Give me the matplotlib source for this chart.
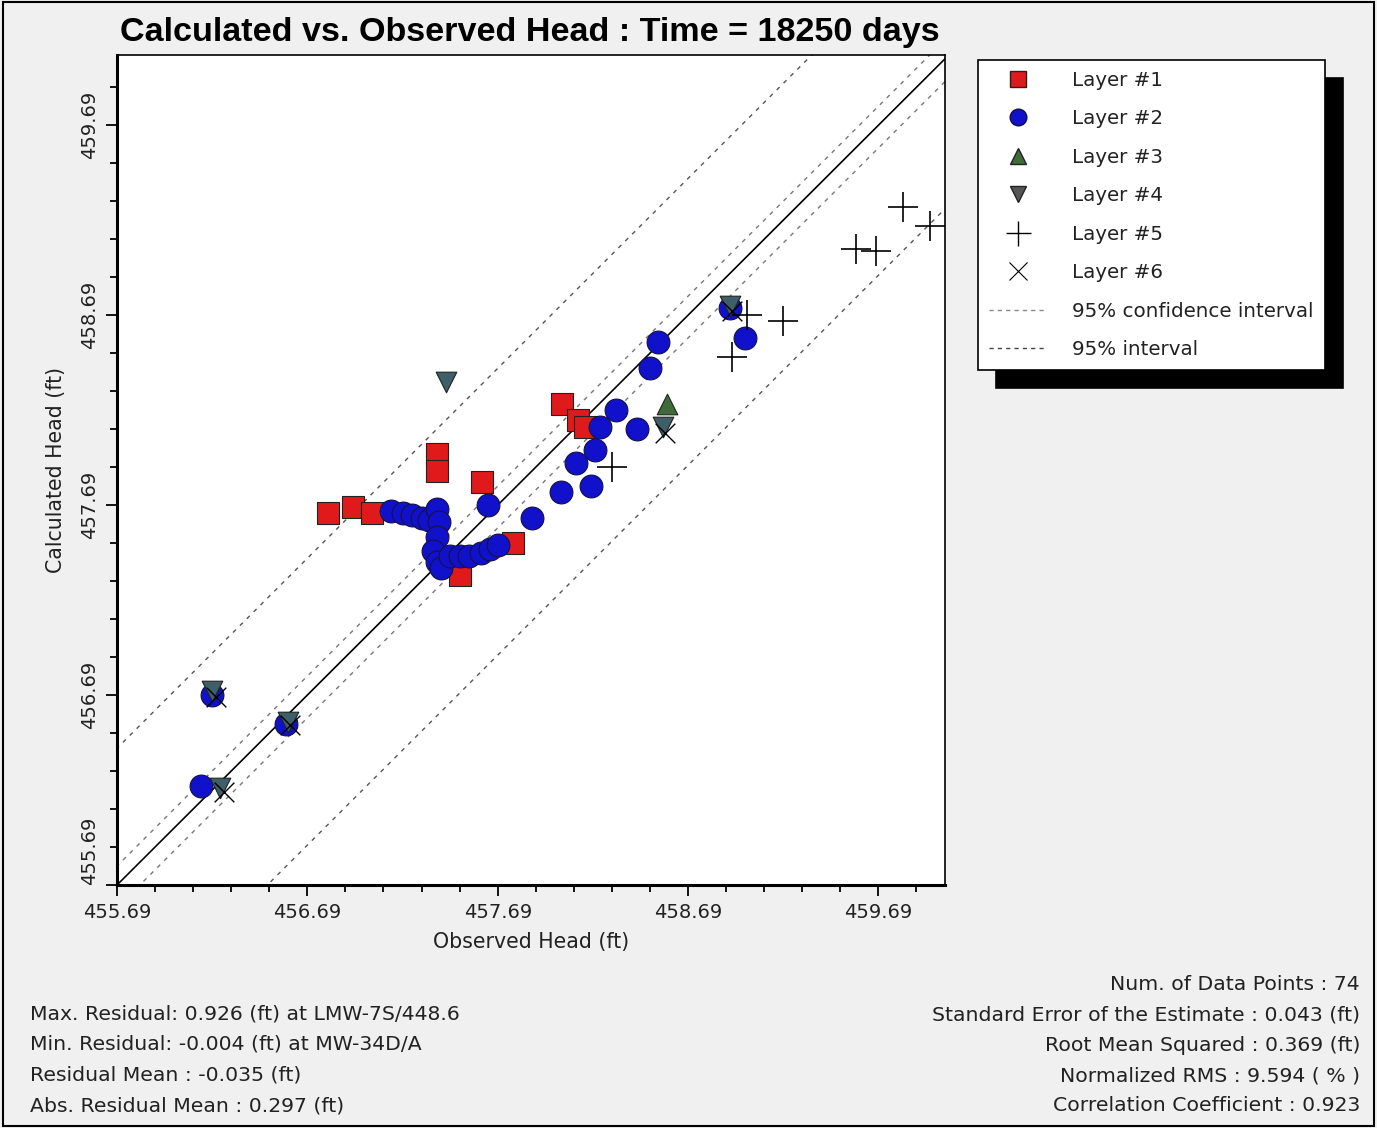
import numpy as np
import matplotlib
matplotlib.use("Agg")
import matplotlib.pyplot as plt
from matplotlib.lines import Line2D
from matplotlib.patches import Rectangle

plt.rcParams['font.family'] = ['DejaVu Sans']

# observed / calculated heads per layer (ft)
l1_obs = [456.80, 456.93, 457.03, 457.37, 457.37, 457.61, 457.77, 457.49, 458.03, 458.11, 458.15]
l1_calc = [457.65, 457.68, 457.65, 457.96, 457.87, 457.81, 457.49, 457.32, 458.22, 458.14, 458.10]

l2_obs = [457.13, 457.19, 457.24, 457.29, 457.33, 457.37, 457.38, 457.37, 457.35, 457.37,
          457.39, 457.44, 457.49, 457.54, 457.60, 457.65, 457.69, 457.64, 457.87, 458.02,
          458.10, 458.18, 458.20, 458.23, 458.31, 458.42, 458.49, 458.53, 458.91, 458.99,
          456.19, 456.58, 456.13]
l2_calc = [457.66, 457.65, 457.64, 457.62, 457.61, 457.67, 457.60, 457.52, 457.45, 457.39,
           457.36, 457.42, 457.42, 457.42, 457.44, 457.46, 457.48, 457.69, 457.62, 457.76,
           457.91, 457.79, 457.98, 458.10, 458.19, 458.09, 458.41, 458.55, 458.73, 458.57,
           456.69, 456.54, 456.21]

l3_obs = [458.58]
l3_calc = [458.22]

l4_obs = [457.42, 458.56, 458.91, 456.19, 456.59, 456.23]
l4_calc = [458.34, 458.10, 458.74, 456.71, 456.55, 456.20]

l5_obs = [458.29, 459.00, 459.19, 458.92, 459.82, 459.96, 459.57, 459.68]
l5_calc = [457.89, 458.69, 458.66, 458.47, 459.26, 459.16, 459.04, 459.03]

l6_obs = [458.57, 456.21, 456.60, 456.25, 458.92]
l6_calc = [458.07, 456.68, 456.53, 456.18, 458.71]

# interval offsets from the 1:1 line (ft)
ci_upper, ci_lower = 0.10, -0.12
pi_upper, pi_lower = 0.72, -0.79

x_min, x_max = 455.69, 460.04
y_min, y_max = 455.69, 460.06

stats_left = ["Max. Residual: 0.926 (ft) at LMW-7S/448.6",
              "Min. Residual: -0.004 (ft) at MW-34D/A",
              "Residual Mean : -0.035 (ft)",
              "Abs. Residual Mean : 0.297 (ft)"]
stats_right = ["Num. of Data Points : 74",
               "Standard Error of the Estimate : 0.043 (ft)",
               "Root Mean Squared : 0.369 (ft)",
               "Normalized RMS : 9.594 ( % )",
               "Correlation Coefficient : 0.923"]

W, H = 1377, 1128
fig = plt.figure(figsize=(W / 100, H / 100), dpi=100, facecolor='#f0f0f0')
ax = fig.add_axes([117 / W, 1 - 885 / H, 828 / W, 830 / H])
ax.set_facecolor('white')

# 1:1 line and intervals
xx = np.array([x_min - 1, x_max + 1])
ax.plot(xx, xx, color='black', lw=1.2, zorder=2)
for off in (ci_upper, ci_lower):
    ax.plot(xx, xx + off, color='#777777', lw=1.0, dashes=(3, 4), zorder=2)
for off in (pi_upper, pi_lower):
    ax.plot(xx, xx + off, color='#555555', lw=1.0, dashes=(3, 4), zorder=2)

ax.scatter(l1_obs, l1_calc, marker='s', s=260, c='#e01a1a', edgecolors='#222222', linewidths=0.8, zorder=3)
ax.scatter(l2_obs, l2_calc, marker='o', s=270, c='#1111cc', edgecolors='#111144', linewidths=0.8, zorder=4)
ax.scatter(l3_obs, l3_calc, marker='^', s=220, c='#3f6b3a', edgecolors='#222222', linewidths=0.8, zorder=5)
ax.scatter(l4_obs, l4_calc, marker='v', s=220, c='#3d5f68', edgecolors='#222222', linewidths=0.8, zorder=5)
ax.scatter(l5_obs, l5_calc, marker='+', s=480, c='black', linewidths=1.2, zorder=6)
ax.scatter(l6_obs, l6_calc, marker='x', s=200, c='black', linewidths=1.0, zorder=6)

ax.set_xlim(x_min, x_max)
ax.set_ylim(y_min, y_max)

major = np.arange(455.69, 460.0, 1.0)
minor = np.arange(455.89, 460.05, 0.2)
ax.set_xticks(major)
ax.set_yticks(major)
ax.set_xticks(minor, minor=True)
ax.set_yticks(minor, minor=True)
ax.set_xticklabels(["%.2f" % v for v in major])
ax.set_yticklabels(["%.2f" % v for v in major], rotation=90, va='center')
ax.tick_params(which='major', length=8, width=1.3, labelsize=14, pad=5, labelcolor='#222222')
ax.tick_params(which='minor', length=5, width=1.3)
# lowest y label sits above its tick so it clears the x labels
ax.get_yticklabels()[0].set_va('bottom')

for side in ('left', 'bottom'):
    ax.spines[side].set_linewidth(2.2)
for side in ('top', 'right'):
    ax.spines[side].set_linewidth(1.2)

ax.set_xlabel("Observed Head (ft)", fontsize=14.8, labelpad=7, color='#222222')
ax.set_ylabel("Calculated Head (ft)", fontsize=14.8, labelpad=10, color='#222222')

fig.text(530 / W, 1 - 32 / H, "Calculated vs. Observed Head : Time = 18250 days",
         family='Liberation Sans', fontweight='bold', fontsize=24.6, ha='center', va='center')

handles = [
    Line2D([], [], ls='none', marker='s', ms=12, mfc='#e01a1a', mec='#222222'),
    Line2D([], [], ls='none', marker='o', ms=12, mfc='#1111cc', mec='#111144'),
    Line2D([], [], ls='none', marker='^', ms=12, mfc='#3f6b3a', mec='#222222'),
    Line2D([], [], ls='none', marker='v', ms=12, mfc='#555555', mec='#222222'),
    Line2D([], [], ls='none', marker='+', ms=18, mec='black', mew=1.0),
    Line2D([], [], ls='none', marker='x', ms=13, mec='black', mew=0.8),
    Line2D([], [], color='#888888', lw=1.0, dashes=(3, 3)),
    Line2D([], [], color='#444444', lw=1.0, dashes=(3, 3)),
]
labels = ["Layer #1", "Layer #2", "Layer #3", "Layer #4", "Layer #5", "Layer #6",
          "95% confidence interval", "95% interval"]
leg = fig.legend(handles, labels, loc='upper left', bbox_to_anchor=(978 / W, 1 - 60 / H),
                 fontsize=14.3, frameon=True, fancybox=False, edgecolor='black',
                 borderpad=0.55, borderaxespad=0, labelspacing=0.98, handlelength=2.9,
                 handletextpad=1.3,
                 shadow={'ox': 13, 'oy': -13, 'color': 'black', 'alpha': 1.0})
leg.get_frame().set_linewidth(1.2)
leg.get_frame().set_facecolor('white')
for t in leg.get_texts():
    t.set_color('#222222')

for i, s in enumerate(stats_left):
    fig.text(30 / W, 1 - (1014 + 30.5 * i) / H, s, fontsize=14.7, ha='left', va='center', color='#222222')
for i, s in enumerate(stats_right):
    fig.text(1360 / W, 1 - (985 + 30.2 * i) / H, s, fontsize=14.7, ha='right', va='center', color='#222222')

fig.patches.append(Rectangle((0.002, 0.002), 0.996, 0.996, transform=fig.transFigure,
                             fill=False, edgecolor='black', lw=1.5))

fig.savefig("out.png", dpi=100, facecolor=fig.get_facecolor())
